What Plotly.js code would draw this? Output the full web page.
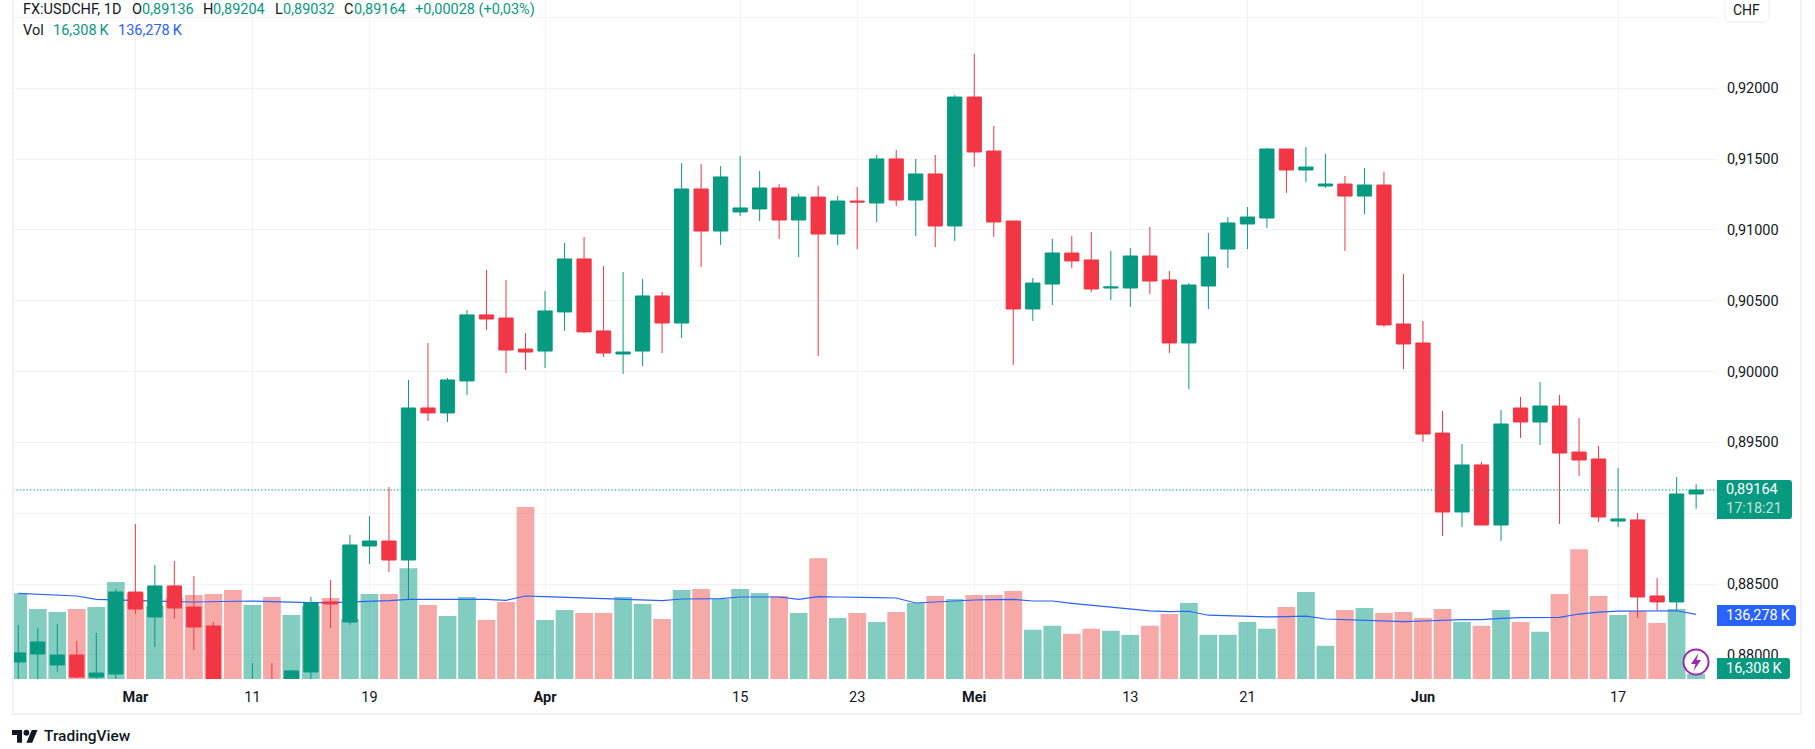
<!DOCTYPE html>
<html>
<head>
<meta charset="utf-8">
<script src="https://cdn.plot.ly/plotly-3.0.1.min.js"></script>
<style>html,body{margin:0;padding:0;background:#fff}#chart{width:1815px;height:749px}</style>
</head>
<body>
<div id="chart"></div>
<script>
const dates = ["2024-02-22","2024-02-23","2024-02-26","2024-02-27","2024-02-28","2024-02-29","2024-03-01",
"2024-03-04","2024-03-05","2024-03-06","2024-03-07","2024-03-08","2024-03-11","2024-03-12","2024-03-13","2024-03-14","2024-03-15",
"2024-03-18","2024-03-19","2024-03-20","2024-03-21","2024-03-22","2024-03-25","2024-03-26","2024-03-27","2024-03-28","2024-03-29",
"2024-04-01","2024-04-02","2024-04-03","2024-04-04","2024-04-05","2024-04-08","2024-04-09","2024-04-10","2024-04-11","2024-04-12",
"2024-04-15","2024-04-16","2024-04-17","2024-04-18","2024-04-19","2024-04-22","2024-04-23","2024-04-24","2024-04-25","2024-04-26",
"2024-04-29","2024-04-30","2024-05-01","2024-05-02","2024-05-03","2024-05-06","2024-05-07","2024-05-08","2024-05-09","2024-05-10",
"2024-05-13","2024-05-14","2024-05-15","2024-05-16","2024-05-17","2024-05-20","2024-05-21","2024-05-22","2024-05-23","2024-05-24",
"2024-05-27","2024-05-28","2024-05-29","2024-05-30","2024-05-31","2024-06-03","2024-06-04","2024-06-05","2024-06-06","2024-06-07",
"2024-06-10","2024-06-11","2024-06-12","2024-06-13","2024-06-14","2024-06-17","2024-06-18","2024-06-19","2024-06-20","2024-06-21"];

const opens = [.87950,.88007,.87929,.87999,.87844,.87865,.88444,.88268,.88487,.88338,.88204,.87700,.87650,.87780,.87788,.87880,.88374,.88232,.88769,.88804,.88670,.89743,.89708,.89934,.90400,.90378,.90159,.90145,.90421,.90795,.90287,.90124,.90145,.90534,.90343,.91289,.90992,.91127,.91148,.91296,.91070,.91232,.90971,.91204,.91190,.91501,.91211,.91395,.91028,.91938,.91557,.91063,.90442,.90618,.90837,.90788,.90590,.90590,.90816,.90647,.90202,.90604,.90865,.91042,.91084,.91571,.91423,.91310,.91324,.91239,.91317,.90336,.90202,.89566,.89009,.89341,.88917,.89743,.89644,.89757,.89432,.89383,.88945,.88953,.88416,.88374,.89136];
const highs = [.88211,.88190,.88218,.88098,.88155,.88465,.88924,.88635,.88663,.88557,.88232,.87760,.87943,.87943,.87894,.88409,.88529,.88847,.88981,.89185,.89941,.90202,.89955,.90435,.90717,.90647,.90272,.90569,.90908,.90950,.90745,.90703,.90654,.90562,.91472,.91465,.91451,.91522,.91416,.91324,.91254,.91310,.91239,.91303,.91529,.91564,.91501,.91529,.91952,.92242,.91734,.91063,.90661,.90936,.90957,.90985,.90851,.90872,.91021,.90710,.90625,.90978,.91091,.91162,.91578,.91571,.91585,.91536,.91381,.91437,.91409,.90689,.90357,.89722,.89489,.89362,.89729,.89821,.89927,.89835,.89672,.89475,.89320,.89002,.88543,.89256,.89204];
const lows = [.87752,.87752,.87880,.87837,.87809,.87809,.88289,.88056,.88254,.88035,.87717,.87600,.87600,.87650,.87750,.87809,.88190,.88211,.88642,.88585,.88395,.89651,.89644,.89835,.90294,.89990,.90011,.90025,.90287,.90272,.90103,.89983,.90039,.90131,.90237,.90738,.90894,.91098,.91063,.90936,.90809,.90110,.90894,.90865,.91056,.91169,.90957,.90879,.90922,.91444,.90950,.90046,.90357,.90470,.90731,.90562,.90505,.90456,.90548,.90131,.89877,.90442,.90731,.90865,.91014,.91261,.91338,.91296,.90851,.91112,.90315,.90018,.89503,.88840,.88903,.88917,.88804,.89531,.89482,.88924,.89263,.88939,.88903,.88261,.88317,.88317,.89032];
const closes = [.88014,.88091,.87999,.87844,.87872,.88444,.88324,.88487,.88331,.88197,.87752,.87640,.87750,.87700,.87887,.88367,.88360,.88776,.88804,.88670,.89743,.89708,.89941,.90400,.90371,.90152,.90138,.90428,.90795,.90280,.90131,.90138,.90534,.90343,.91289,.90992,.91374,.91155,.91296,.91070,.91232,.90971,.91204,.91197,.91501,.91211,.91395,.91028,.91938,.91550,.91056,.90442,.90625,.90837,.90781,.90583,.90597,.90816,.90639,.90202,.90611,.90809,.91049,.91091,.91571,.91423,.91444,.91324,.91239,.91317,.90329,.90195,.89559,.89009,.89341,.88917,.89630,.89644,.89757,.89425,.89376,.88974,.88960,.88409,.88374,.89136,.89164];

const volumes = [178.5,147,141,147,151,201,179,153,169,175,177,185,155,171,135,153,169,127,177,177,229,155,133,171,125,161,352,125,145,139,139,171,157,127,185,187,167,187,179,173,139,249,129,139,121,141,159,173,167,175,175,183,105,113,97,107,103,95,113,137,159,95,95,121,107,151,181,73,145,149,139,141,129,147,121,113,145,121,101,177,267,173,135,143,119,147,16.308];
const volumeMA = [178.5,177,175.6,173,166.4,165,163.6,162.4,161.6,161,161.6,162.4,163,161.6,160.4,159.6,159.6,161,161.6,163.6,166.4,166.4,166.4,167.6,166.4,164.4,173,171.6,170.4,168.4,167,166.4,165.6,163.6,167,167.6,167.6,171,171.6,171,166.4,171.6,171,169.6,169.6,169,159,161,163.6,165,165.6,166.4,163,163,158.4,154.4,151,146.4,143,141.6,142.4,134.4,133,131.6,131,131.6,132.4,126.8,125.4,124.8,122.8,121.4,122.8,124.2,125.4,125.4,128.2,129.4,129.4,130.2,136.8,140.8,142.8,143.4,144.2,143.4,136.278];

const priceTicks = [0.88,0.885,0.89,0.895,0.90,0.905,0.91,0.915,0.92,0.925];
const priceTickLabels = ["0,88000","0,88500","","0,89500","0,90000","0,90500","0,91000","0,91500","0,92000",""];
const timeTicks = ["2024-03-01","2024-03-11","2024-03-19","2024-04-01","2024-04-15","2024-04-23","2024-05-01","2024-05-13","2024-05-21","2024-06-03","2024-06-17"];
const timeTickLabels = ["<b>Mar</b>","11","19","<b>Apr</b>","15","23","<b>Mei</b>","13","21","<b>Jun</b>","17"];

const UP = "#089981", DOWN = "#F23645", BLUE = "#2962FF", INK = "#131722";
const FONT = "Roboto, sans-serif";
const L = 13, R = 1717, B = 679;
const fx = x => (x - L) / (R - L);
const fy = y => 1 - y / B;

const note = (x, y, text, color, size, anchor, weight) => ({
  xref: "paper", yref: "paper", x: fx(x), y: fy(y), text: text, showarrow: false,
  xanchor: anchor || "left", yanchor: "middle", borderpad: 0, borderwidth: 0,
  font: {family: FONT, size: size || 14.5, color: color || INK, weight: weight || 400}
});
const rr = (x0, y0, x1, y1, r) => {
  const p = (x, y) => fx(x) + "," + fy(y);
  return "M" + p(x0, y0) + " L" + p(x1 - r, y0) + " Q" + p(x1, y0) + " " + p(x1, y0 + r) +
    " L" + p(x1, y1 - r) + " Q" + p(x1, y1) + " " + p(x1 - r, y1) + " L" + p(x0, y1) + " Z";
};
const poly = pts => "M" + pts.map(q => fx(q[0]) + "," + fy(q[1])).join(" L") + " Z";
const box = (x0, y0, x1, y1, fill, line, w) => ({
  type: "rect", xref: "paper", yref: "paper", x0: fx(x0), x1: fx(x1), y0: fy(y0), y1: fy(y1),
  fillcolor: fill, line: {color: line || fill, width: w === undefined ? 0 : w}, layer: "above"
});
const solid = (path, fill) => ({type: "path", xref: "paper", yref: "paper", path: path, fillcolor: fill, line: {width: 0}, layer: "above"});
const circle = (cx, cy, r, fill, line, w) => ({
  type: "circle", xref: "paper", yref: "paper", x0: fx(cx - r), x1: fx(cx + r), y0: fy(cy + r), y1: fy(cy - r),
  fillcolor: fill, line: {color: line || fill, width: w || 0}, layer: "above"
});

const logoX = v => 12 + v * 0.72, logoY = v => 727 + v * 0.72;
const shapes = [
  {type: "line", xref: "paper", yref: "y2", x0: 0, x1: 1, y0: closes[closes.length - 1], y1: closes[closes.length - 1],
   line: {color: UP, width: 1.1, dash: "1.4px,2px"}, layer: "above"},
  box(12, 0, 14, 714, "#F0F1F6"),
  box(12, 713, 1802, 715, "#F0F1F6"),
  box(1800, 0, 1802, 714, "#F0F1F6"),
  solid(rr(1717, 480, 1792, 519, 3), UP),
  solid(rr(1717, 605, 1796, 626, 3), BLUE),
  solid(rr(1717, 658, 1790, 679, 3), UP),
  circle(1696, 662, 12.5, "#FFFFFF", "#9C27B0", 2),
  solid(poly([[1698.5,653],[1691,664],[1695.5,664],[1693.5,671],[1701,660],[1696.5,660]]), "#9C27B0"),
  {type: "path", xref: "paper", yref: "paper", layer: "above", fillcolor: "#FFFFFF",
   line: {color: "#EBEDF2", width: 1},
   path: "M" + fx(1725) + "," + fy(-2) + " L" + fx(1725) + "," + fy(17) + " Q" + fx(1725) + "," + fy(22) + " " + fx(1730) + "," + fy(22) +
         " L" + fx(1764) + "," + fy(22) + " Q" + fx(1769) + "," + fy(22) + " " + fx(1769) + "," + fy(17) + " L" + fx(1769) + "," + fy(-2)},
  solid(poly([[logoX(0),logoY(4)],[logoX(14),logoY(4)],[logoX(14),logoY(22)],[logoX(7),logoY(22)],[logoX(7),logoY(11)],[logoX(0),logoY(11)]]), INK),
  solid(poly([[logoX(20),logoY(22)],[logoX(27.5),logoY(4)],[logoX(35.5),logoY(4)],[logoX(28),logoY(22)]]), INK),
  circle(logoX(20), logoY(8), 2.9, INK)
];

const annotations = [
  note(23, 10, "FX:USDCHF, 1D"),
  note(132, 10, "O"), note(142, 10, "0,89136", UP),
  note(203, 10, "H"), note(213, 10, "0,89204", UP),
  note(275, 10, "L"), note(283, 10, "0,89032", UP),
  note(344, 10, "C"), note(354, 10, "0,89164", UP),
  note(415, 10, "+0,00028 (+0,03%)", UP),
  note(23, 31, "Vol"), note(53, 31, "16,308\u2009K", UP), note(118, 31, "136,278\u2009K", BLUE),
  note(1726, 489, "0,89164", "#FFFFFF"),
  note(1726, 508, "17:18:21", "rgba(255,255,255,0.75)"),
  note(1726, 615.5, "136,278\u2009K", "#FFFFFF"),
  note(1726, 668.5, "16,308\u2009K", "#FFFFFF"),
  note(1746, 10, "CHF", INK, 14, "center"),
  note(44, 736, "TradingView", INK, 15.5, "left", 500)
];

const barColors = closes.map((c, i) => c >= opens[i] ? "rgba(8,153,129,0.5)" : "rgba(239,83,80,0.5)");

const traces = [
  {type: "bar", x: dates, y: volumes, xaxis: "x", yaxis: "y", marker: {color: barColors, line: {width: 0}}, hoverinfo: "skip"},
  {type: "scatter", mode: "lines", x: dates, y: volumeMA, xaxis: "x", yaxis: "y", line: {color: BLUE, width: 1.2}, hoverinfo: "skip"},
  {type: "candlestick", x: dates, open: opens, high: highs, low: lows, close: closes, xaxis: "x", yaxis: "y2",
   increasing: {line: {color: UP, width: 1}, fillcolor: UP},
   decreasing: {line: {color: DOWN, width: 1}, fillcolor: DOWN},
   whiskerwidth: 0, hoverinfo: "skip"}
];

const layout = {
  width: 1815, height: 749, showlegend: false,
  margin: {l: L, r: 1815 - R, t: 0, b: 749 - B, pad: 0},
  paper_bgcolor: "#FFFFFF", plot_bgcolor: "#FFFFFF",
  bargap: 0.09, boxgap: 0.27, boxgroupgap: 0,
  font: {family: FONT, size: 14.5, color: INK},
  xaxis: {type: "category", range: [-0.27, 87.07], tickmode: "array", tickvals: timeTicks, ticktext: timeTickLabels,
    showgrid: true, gridcolor: "#F2F2F4", gridwidth: 1, zeroline: false, showline: false,
    ticks: "outside", ticklen: 5, tickcolor: "rgba(0,0,0,0)", tickangle: 0,
    tickfont: {family: FONT, size: 14.5, color: INK}, rangeslider: {visible: false}, anchor: "y", fixedrange: true},
  yaxis: {range: [6.2, 1371], visible: false, showgrid: false, zeroline: false, fixedrange: true},
  yaxis2: {overlaying: "y", side: "right", anchor: "x", range: [0.87830, 0.92623], tickmode: "array",
    tickvals: priceTicks, ticktext: priceTickLabels, showgrid: true, gridcolor: "#F2F2F4", gridwidth: 1,
    zeroline: false, showline: false, ticks: "outside", ticklen: 6, tickcolor: "rgba(0,0,0,0)",
    tickfont: {family: FONT, size: 14.5, color: INK}, fixedrange: true},
  shapes: shapes,
  annotations: annotations
};
Plotly.newPlot("chart", traces, layout, {displayModeBar: false, staticPlot: true});
</script>
</body>
</html>
